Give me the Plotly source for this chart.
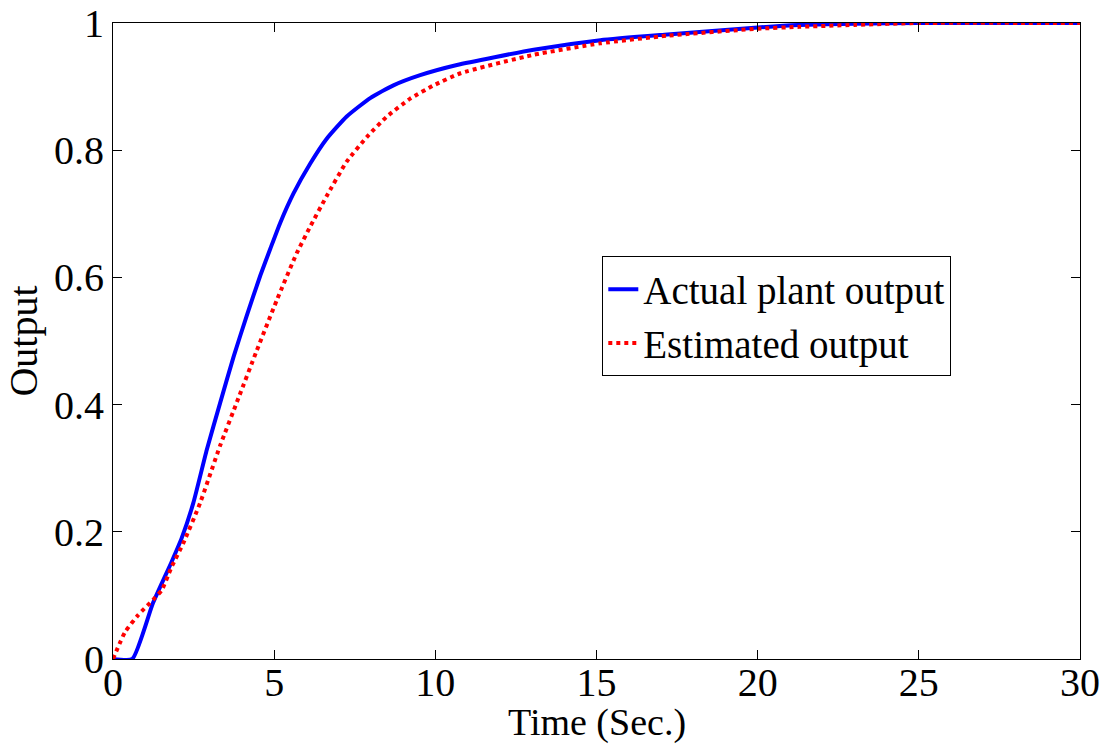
import plotly.graph_objects as go

# Actual plant output (blue solid)
t_actual = [0, 0.6, 1.24, 1.82, 2.13, 2.49, 2.91, 3.32, 3.74, 4.15, 4.57, 4.88, 5.19, 5.60, 6.12,
            6.63, 7.25, 7.98, 8.70, 9.53, 10.67, 13.05, 15.12, 17.2, 20, 21.3, 23, 25, 30]
y_actual = [0, 0, 0.088, 0.153, 0.19, 0.245, 0.329, 0.402, 0.475, 0.54, 0.603, 0.645, 0.686, 0.732, 0.779,
            0.818, 0.853, 0.882, 0.902, 0.918, 0.934, 0.958, 0.973, 0.982, 0.993, 0.997, 0.999, 1.0, 1.0]

# Estimated output (red dotted)
t_est = [0, 0.37, 0.78, 1.24, 1.51, 1.82, 2.18, 2.70, 3.32, 3.89, 4.46, 5.08, 5.70, 6.12, 6.63,
         7.25, 7.88, 8.50, 9.22, 9.95, 10.78, 13.05, 15.12, 17.2, 20, 21.3, 23, 25, 30]
y_est = [0, 0.042, 0.069, 0.093, 0.108, 0.145, 0.182, 0.245, 0.335, 0.41, 0.485, 0.564, 0.638, 0.680, 0.728,
         0.782, 0.821, 0.853, 0.881, 0.902, 0.921, 0.950, 0.968, 0.980, 0.991, 0.994, 0.997, 1.0, 1.0]

x_ticks = [0, 5, 10, 15, 20, 25, 30]
y_ticks = [0, 0.2, 0.4, 0.6, 0.8, 1]
y_tick_text = ["0", "0.2", "0.4", "0.6", "0.8", "1"]
x_title = "Time (Sec.)"
y_title = "Output"

font_family = "Liberation Serif, Times New Roman, serif"
fs = 40

fig = go.Figure()
fig.add_trace(go.Scatter(x=t_actual, y=y_actual, mode="lines", name="Actual plant output",
                         line=dict(color="#0000ff", width=4, shape="spline", smoothing=0.5)))
fig.add_trace(go.Scatter(x=t_est, y=y_est, mode="lines", name="Estimated output",
                         line=dict(color="#ff0000", width=4, dash="dot", shape="spline", smoothing=0.5)))

axis_common = dict(showgrid=False, zeroline=False, showline=True, linecolor="black", linewidth=1,
                   mirror="ticks", ticks="inside", ticklen=9, tickcolor="black", automargin=False,
                   ticklabeloverflow="allow",
                   tickfont=dict(family=font_family, size=fs, color="black"))

fig.update_xaxes(range=[0, 30], tickvals=x_ticks, ticktext=[str(v) for v in x_ticks],
                 ticklabelstandoff=-12, **axis_common)
fig.update_yaxes(range=[0, 1], tickvals=y_ticks, ticktext=y_tick_text,
                 title=dict(text=y_title, font=dict(family=font_family, size=fs, color="black"), standoff=4),
                 **axis_common)

fig.add_annotation(text=x_title, xref="paper", yref="paper", x=0.5, y=-0.137,
                   xanchor="center", yanchor="bottom", showarrow=False,
                   font=dict(family=font_family, size=38, color="black"))

fig.update_layout(
    width=1107, height=745,
    margin=dict(l=113, r=27, t=23, b=86, autoexpand=False),
    paper_bgcolor="white", plot_bgcolor="white",
    font=dict(family=font_family, size=fs, color="black"),
    legend=dict(x=0.506, y=0.633, xanchor="left", yanchor="top",
                bordercolor="black", borderwidth=1, bgcolor="white",
                font=dict(family=font_family, size=39, color="black"),
                tracegroupgap=0, itemwidth=30),
    showlegend=True,
)

fig.write_html("out.html", config={"displayModeBar": False},
               post_script="document.body.style.margin='0';document.body.style.overflow='hidden';")
